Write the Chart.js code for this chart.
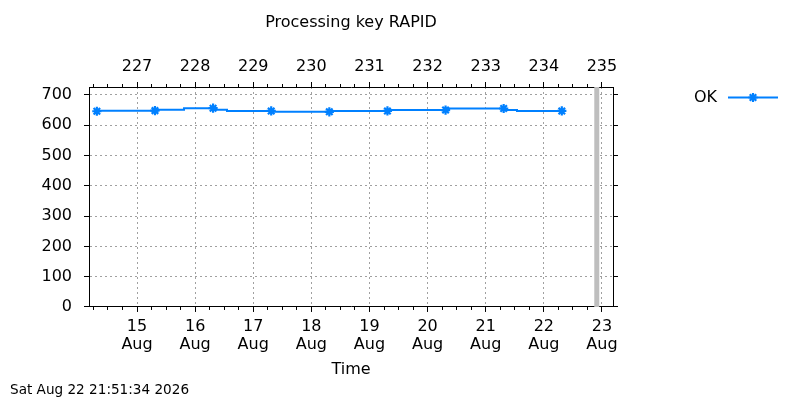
<!DOCTYPE html>
<html>
<head>
<meta charset="utf-8">
<title>Processing key RAPID</title>
<script src="https://cdn.jsdelivr.net/npm/chart.js@4.4.1/dist/chart.umd.min.js"></script>
<style>
  html, body { margin: 0; padding: 0; background: #fff; }
  canvas { display: block; }
</style>
</head>
<body>
<canvas id="chart" width="800" height="400"></canvas>
<script>
const CHART_TITLE = "Processing key RAPID";
const STAMP = "Sat Aug 22 21:51:34 2026";
const NOW = "22 21:51:34";
const SERIES_LABEL = "OK";
const MONTH = "Aug";
const MARK_TIME = "07:25"; // one marker a day, at this time

// times in August ("day hh:mm") where the OK count was read; the line holds
// each value until the next time
const sampleTimes = [
  "14 07:25",
  "15 07:25", "15 19:25",
  "16 03:40", "16 07:25", "16 13:10",
  "17 01:10", "17 07:25", "17 18:50",
  "18 07:25", "18 19:15",
  "19 07:25", "19 18:45",
  "20 07:25", "20 18:45",
  "21 07:25", "21 12:55",
  "22 01:20", "22 07:25",
];
const okValues = [
  646,
  648, 651,
  656, 656, 651,
  647, 647, 644,
  644, 647,
  647, 650,
  650, 655,
  655, 650,
  647, 647,
];

const dayTicks = [15, 16, 17, 18, 19, 20, 21, 22, 23];
const topTickLabels = ["227", "228", "229", "230", "231", "232", "233", "234", "235"];
const yTicks = [0, 100, 200, 300, 400, 500, 600, 700];

const X_MIN = 14.174;
const X_MAX = 23.19;
const Y_MAX = 726;

const FONT = "'DejaVu Sans', sans-serif";
const LINE_COLOR = "#0080ff";
const NOW_COLOR = "#bebebe";
const GRID_COLOR = "#a0a0a0";

function parseDay(text) {
  const [day, clock] = text.split(" ");
  const [h, m, s] = clock.split(":").map(Number);
  return Number(day) + (h + m / 60 + (s || 0) / 3600) / 24;
}

function fixedTicks(values) {
  return (scale) => {
    scale.ticks = values.map((value) => ({ value }));
  };
}

const minorTicks = [];
for (let q = Math.ceil(X_MIN * 4); q <= Math.floor(X_MAX * 4); q++) {
  if (q % 4 !== 0) minorTicks.push(q / 4);
}

const okPoints = sampleTimes.map((t, i) => ({ x: parseDay(t), y: okValues[i] }));
const marked = sampleTimes.map((t) => t.endsWith(MARK_TIME));
const nowDay = parseDay(NOW);

const keyPlugin = {
  id: "okKey",
  afterDraw(chart) {
    const { ctx, chartArea } = chart;
    const y = chartArea.top + 10.5;
    const lineStart = chartArea.right + 115;
    const lineEnd = lineStart + 50;
    ctx.save();
    ctx.font = `16px ${FONT}`;
    ctx.fillStyle = "#000";
    ctx.textAlign = "right";
    ctx.textBaseline = "middle";
    ctx.fillText(SERIES_LABEL, lineStart - 11, y);
    ctx.strokeStyle = LINE_COLOR;
    ctx.lineWidth = 2;
    ctx.beginPath();
    ctx.moveTo(lineStart, y);
    ctx.lineTo(lineEnd, y);
    ctx.stroke();
    ctx.fillStyle = LINE_COLOR;
    ctx.lineWidth = 2.2;
    Chart.helpers.drawPoint(
      ctx,
      { pointStyle: "star", radius: 4.6, rotation: 0, borderWidth: 2.2 },
      (lineStart + lineEnd) / 2,
      y
    );
    ctx.restore();
  },
};

Chart.defaults.font.family = FONT;
Chart.defaults.font.size = 16;
Chart.defaults.color = "#000";

const tickMarks = { drawOnChartArea: false, tickColor: "#000", tickLength: 5 };

new Chart(document.getElementById("chart"), {
  type: "scatter",
  data: {
    datasets: [
      {
        label: "now",
        data: [{ x: nowDay, y: 0 }, { x: nowDay, y: Y_MAX }],
        showLine: true,
        borderColor: NOW_COLOR,
        borderWidth: 5,
        pointRadius: 0,
        order: 2,
      },
      {
        label: SERIES_LABEL,
        data: okPoints,
        showLine: true,
        stepped: "after",
        tension: 0,
        borderColor: LINE_COLOR,
        borderWidth: 2,
        pointStyle: "star",
        pointRadius: (c) => (marked[c.dataIndex] ? 4.6 : 0),
        pointBorderWidth: 2.2,
        pointBorderColor: LINE_COLOR,
        pointBackgroundColor: LINE_COLOR,
        order: 1,
      },
    ],
  },
  options: {
    responsive: false,
    animation: false,
    events: [],
    layout: { padding: { left: 10, right: 0, top: 0, bottom: 0 } },
    plugins: {
      legend: { display: false },
      tooltip: { enabled: false },
      title: {
        display: true,
        text: CHART_TITLE,
        fullSize: false,
        font: { size: 16, weight: "normal", lineHeight: 1.2 },
        padding: { top: 13.4, bottom: 5.4 },
      },
      subtitle: {
        display: true,
        text: STAMP,
        position: "bottom",
        align: "start",
        font: { size: 13.6, weight: "normal", lineHeight: 1.15 },
        padding: { top: 3.2, bottom: 2.2 },
      },
    },
    scales: {
      x: {
        type: "linear",
        position: "bottom",
        min: X_MIN,
        max: X_MAX,
        bounds: "data",
        afterBuildTicks: fixedTicks(dayTicks),
        afterFit: (s) => { s.height = 72; },
        grid: { color: GRID_COLOR, tickColor: "#000", tickLength: 5 },
        border: { color: "#000", dash: [2, 3] },
        ticks: {
          padding: 6,
          autoSkip: false,
          maxRotation: 0,
          font: { size: 16, lineHeight: 1.1 },
          callback: (v, i) => [String(dayTicks[i]), MONTH],
        },
        title: { display: true, text: "Time", padding: 0, font: { size: 16 } },
      },
      xMinor: {
        type: "linear",
        position: "bottom",
        weight: -1,
        min: X_MIN,
        max: X_MAX,
        bounds: "data",
        afterBuildTicks: fixedTicks(minorTicks),
        afterFit: (s) => { s.height = 0; },
        grid: { drawOnChartArea: false, tickColor: "#000", tickLength: 3 },
        border: { display: false },
        ticks: { padding: 0, autoSkip: false, maxRotation: 0, callback: () => "" },
      },
      x2: {
        type: "linear",
        position: "top",
        min: X_MIN,
        max: X_MAX,
        bounds: "data",
        afterBuildTicks: fixedTicks(dayTicks),
        afterFit: (s) => { s.height = 49; },
        grid: tickMarks,
        border: { color: "#000" },
        ticks: {
          padding: 6,
          autoSkip: false,
          maxRotation: 0,
          font: { size: 16, lineHeight: 1.1 },
          callback: (v, i) => topTickLabels[i],
        },
      },
      x2Minor: {
        type: "linear",
        position: "top",
        weight: -1,
        min: X_MIN,
        max: X_MAX,
        bounds: "data",
        afterBuildTicks: fixedTicks(minorTicks),
        afterFit: (s) => { s.height = 0; },
        grid: { drawOnChartArea: false, tickColor: "#000", tickLength: 3 },
        border: { display: false },
        ticks: { padding: 0, autoSkip: false, maxRotation: 0, callback: () => "" },
      },
      y: {
        type: "linear",
        position: "left",
        min: 0,
        max: Y_MAX,
        bounds: "data",
        afterBuildTicks: fixedTicks(yTicks),
        afterFit: (s) => { s.width = 79; },
        grid: {
          color: (c) => (c.tick && c.tick.value === 0 ? "rgba(0,0,0,0)" : GRID_COLOR),
          tickColor: "#000",
          tickLength: 5,
        },
        border: { color: "#000", dash: [2, 3] },
        ticks: { padding: 12, callback: (v) => String(v) },
      },
      y2: {
        type: "linear",
        position: "right",
        min: 0,
        max: Y_MAX,
        bounds: "data",
        afterBuildTicks: fixedTicks(yTicks),
        afterFit: (s) => { s.width = 187; },
        grid: tickMarks,
        border: { color: "#000" },
        ticks: { padding: 0, callback: () => "" },
      },
    },
  },
  plugins: [keyPlugin],
});
</script>
</body>
</html>
